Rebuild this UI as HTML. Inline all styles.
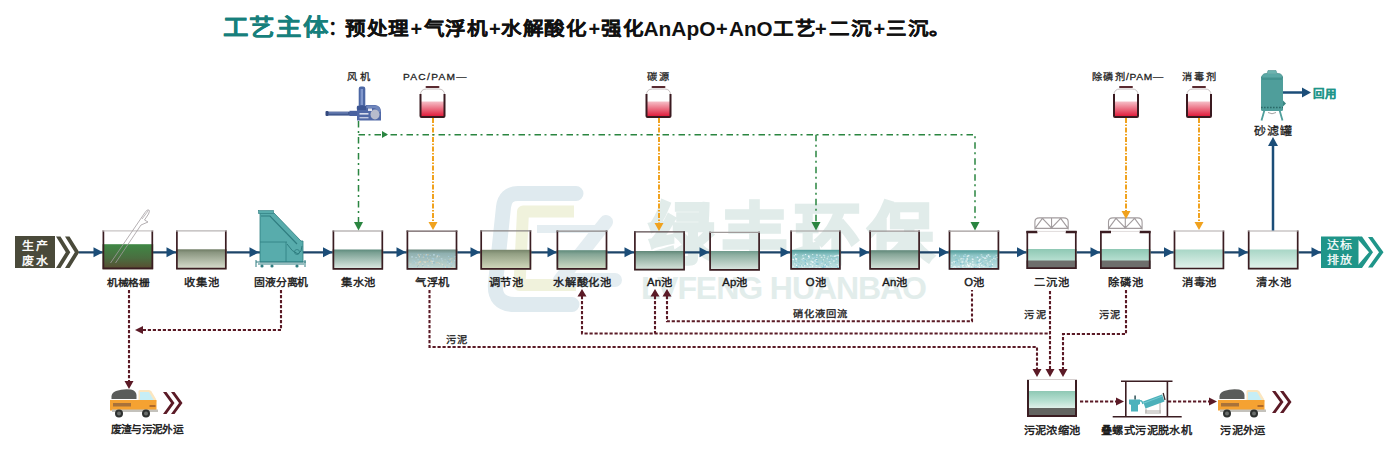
<!DOCTYPE html>
<html lang="zh-CN"><head><meta charset="utf-8"><style>
html,body{margin:0;padding:0;background:#fff;width:1400px;height:460px;overflow:hidden}
svg{display:block;font-family:"Liberation Sans",sans-serif}
</style></head><body>
<svg width="1400" height="460" viewBox="0 0 1400 460">

<defs>
<linearGradient id="g_grid" x1="0" y1="0" x2="0" y2="1"><stop offset="0" stop-color="#3f8845"/><stop offset="0.55" stop-color="#4a6e40"/><stop offset="1" stop-color="#5a4a30"/></linearGradient>
<linearGradient id="g_olive" x1="0" y1="0" x2="0" y2="1"><stop offset="0" stop-color="#6d7a62"/><stop offset="0.15" stop-color="#8a9680"/><stop offset="1" stop-color="#dde2d2"/></linearGradient>
<linearGradient id="g_teal" x1="0" y1="0" x2="0" y2="1"><stop offset="0" stop-color="#5d8a7c"/><stop offset="0.15" stop-color="#7aa093"/><stop offset="1" stop-color="#e3eee8"/></linearGradient>
<linearGradient id="g_float" x1="0" y1="0" x2="0" y2="1"><stop offset="0" stop-color="#6c8a80"/><stop offset="0.2" stop-color="#8fb0b0"/><stop offset="1" stop-color="#c8dcd8"/></linearGradient>
<linearGradient id="g_olive2" x1="0" y1="0" x2="0" y2="1"><stop offset="0" stop-color="#76846a"/><stop offset="0.2" stop-color="#93a084"/><stop offset="1" stop-color="#d6dcc0"/></linearGradient>
<linearGradient id="g_teal2" x1="0" y1="0" x2="0" y2="1"><stop offset="0" stop-color="#5e8a7a"/><stop offset="0.2" stop-color="#84a595"/><stop offset="1" stop-color="#d5e0c8"/></linearGradient>
<linearGradient id="g_an2" x1="0" y1="0" x2="0" y2="1"><stop offset="0" stop-color="#6f9a8c"/><stop offset="0.2" stop-color="#8fb0a2"/><stop offset="1" stop-color="#dfe9e4"/></linearGradient>
<linearGradient id="g_an" x1="0" y1="0" x2="0" y2="1"><stop offset="0" stop-color="#5f8778"/><stop offset="0.2" stop-color="#86a698"/><stop offset="1" stop-color="#dde8e0"/></linearGradient>
<linearGradient id="g_o" x1="0" y1="0" x2="0" y2="1"><stop offset="0" stop-color="#4f9a98"/><stop offset="0.25" stop-color="#8cc4c4"/><stop offset="1" stop-color="#c8e4e6"/></linearGradient>
<linearGradient id="g_settle" x1="0" y1="0" x2="0" y2="1"><stop offset="0" stop-color="#8ec8b4"/><stop offset="0.6" stop-color="#b8e0d2"/><stop offset="1" stop-color="#e0f0ea"/></linearGradient>
<linearGradient id="g_clear" x1="0" y1="0" x2="0" y2="1"><stop offset="0" stop-color="#a8d6c6"/><stop offset="1" stop-color="#e6f4ee"/></linearGradient>
<linearGradient id="g_red" x1="0" y1="0" x2="0" y2="1"><stop offset="0" stop-color="#f6c0c8"/><stop offset="1" stop-color="#e01838"/></linearGradient>
<pattern id="bubbles" width="6" height="5" patternUnits="userSpaceOnUse"><circle cx="1.5" cy="1.5" r="0.8" fill="#e8f6f8" opacity="0.8"/><circle cx="4.5" cy="3.5" r="0.7" fill="#ffffff" opacity="0.7"/></pattern>
</defs>
<g>
<path d="M576 193.5 L518 193.5 Q505 193.5 503.5 207 L495.5 283 Q493.5 304.5 515 304.5 L572 304.5" fill="none" stroke="#dfeaef" stroke-width="15" stroke-linecap="round" stroke-linejoin="round"/>
<path d="M574 211.5 L523 211.5 L519.5 285 L576 285" fill="none" stroke="#f0f2dc" stroke-width="12" stroke-linejoin="round"/>
<path d="M537 229 L598 229" fill="none" stroke="#e4edf1" stroke-width="8"/>
<path d="M606 222 L560 280 L615 280" fill="none" stroke="#e4edf1" stroke-width="14" stroke-linejoin="round" stroke-linecap="round"/>
<text x="649" y="257" font-size="65" font-weight="700" fill="#e1ecea" stroke="#e1ecea" stroke-width="3.5" letter-spacing="8">绿丰环保</text>
<text x="641" y="298.5" font-size="32" font-weight="700" fill="#e2edeb" textLength="286" lengthAdjust="spacing">LVFENG HUANBAO</text>
</g>
<text transform="translate(222.5,35.4) scale(1,0.9)" font-size="25.5" font-weight="700" letter-spacing="1.6" fill="#177f7c" stroke="#177f7c" stroke-width="0.15">工艺主体</text>
<text x="328" y="35" font-size="19" font-weight="700" fill="#111">：</text>
<text transform="translate(345,35.2) scale(1,0.9)" font-size="20.6" font-weight="700" fill="#111" stroke="#111" stroke-width="0.2" letter-spacing="0.6">预处理</text>
<text transform="translate(423.5,35.2) scale(1,0.9)" font-size="20.6" font-weight="700" fill="#111" stroke="#111" stroke-width="0.2" letter-spacing="0.6">气浮机</text>
<text transform="translate(501,35.2) scale(1,0.9)" font-size="20.6" font-weight="700" fill="#111" stroke="#111" stroke-width="0.2" letter-spacing="0.6">水解酸化</text>
<text transform="translate(601,35.2) scale(1,0.9)" font-size="20.6" font-weight="700" fill="#111" stroke="#111" stroke-width="0.2" letter-spacing="0.6">强化</text>
<text transform="translate(773.2,35.2) scale(1,0.9)" font-size="20.6" font-weight="700" fill="#111" stroke="#111" stroke-width="0.2" letter-spacing="0.6">工艺</text>
<text transform="translate(829,35.2) scale(1,0.9)" font-size="20.6" font-weight="700" fill="#111" stroke="#111" stroke-width="0.2" letter-spacing="0.6">二沉</text>
<text transform="translate(886,35.2) scale(1,0.9)" font-size="20.6" font-weight="700" fill="#111" stroke="#111" stroke-width="0.2" letter-spacing="0.6">三沉。</text>
<text x="410.5" y="35.5" font-size="20" font-weight="700" fill="#111">+</text>
<text x="489" y="35.5" font-size="20" font-weight="700" fill="#111">+</text>
<text x="588.5" y="35.5" font-size="20" font-weight="700" fill="#111">+</text>
<text x="716" y="35.5" font-size="20" font-weight="700" fill="#111">+</text>
<text x="815" y="35.5" font-size="20" font-weight="700" fill="#111">+</text>
<text x="873.5" y="35.5" font-size="20" font-weight="700" fill="#111">+</text>
<text x="643.5" y="35.5" font-size="20" font-weight="700" fill="#111" textLength="72" lengthAdjust="spacingAndGlyphs">AnApO</text>
<text x="729" y="35.5" font-size="20" font-weight="700" fill="#111" textLength="43.5" lengthAdjust="spacingAndGlyphs">AnO</text>
<line x1="79" y1="252.3" x2="1321" y2="252.3" stroke="#1d4468" stroke-width="2.3"/>
<path d="M93.5 247.3 L103 252.3 L93.5 257.3Z" fill="#1b4d78"/>
<path d="M166.5 247.3 L176 252.3 L166.5 257.3Z" fill="#1b4d78"/>
<path d="M249.5 247.3 L259 252.3 L249.5 257.3Z" fill="#1b4d78"/>
<path d="M323.0 247.3 L332.5 252.3 L323.0 257.3Z" fill="#1b4d78"/>
<path d="M396.5 247.3 L406 252.3 L396.5 257.3Z" fill="#1b4d78"/>
<path d="M470.5 247.3 L480 252.3 L470.5 257.3Z" fill="#1b4d78"/>
<path d="M547.5 247.3 L557 252.3 L547.5 257.3Z" fill="#1b4d78"/>
<path d="M624.5 247.3 L634 252.3 L624.5 257.3Z" fill="#1b4d78"/>
<path d="M699.5 247.3 L709 252.3 L699.5 257.3Z" fill="#1b4d78"/>
<path d="M780.5 247.3 L790 252.3 L780.5 257.3Z" fill="#1b4d78"/>
<path d="M859.5 247.3 L869 252.3 L859.5 257.3Z" fill="#1b4d78"/>
<path d="M939.0 247.3 L948.5 252.3 L939.0 257.3Z" fill="#1b4d78"/>
<path d="M1017.0 247.3 L1026.5 252.3 L1017.0 257.3Z" fill="#1b4d78"/>
<path d="M1090.5 247.3 L1100 252.3 L1090.5 257.3Z" fill="#1b4d78"/>
<path d="M1164.0 247.3 L1173.5 252.3 L1164.0 257.3Z" fill="#1b4d78"/>
<path d="M1238.5 247.3 L1248 252.3 L1238.5 257.3Z" fill="#1b4d78"/>
<path d="M1311.5 247.3 L1321 252.3 L1311.5 257.3Z" fill="#1b4d78"/>
<rect x="102.5" y="244.2" width="50.69999999999999" height="25.100000000000023" fill="url(#g_grid)"/>
<path d="M103.4 230.3 L103.4 268.40000000000003 L152.29999999999998 268.40000000000003 L152.29999999999998 230.3" fill="none" stroke="#3b1d22" stroke-width="1.7"/>
<line x1="102.5" y1="230.9" x2="153.2" y2="230.9" stroke="#c8c4c4" stroke-width="1.2"/>
<text transform="translate(128.45,286.2) scale(1,0.9)" font-size="10.7" letter-spacing="0.25" text-anchor="middle" fill="#1a1a1a" stroke="#1a1a1a" stroke-width="0.42" >机械格栅</text>
<rect x="176" y="249.3" width="50.69999999999999" height="20.19999999999999" fill="url(#g_olive)"/>
<path d="M176.9 230.3 L176.9 268.6 L225.79999999999998 268.6 L225.79999999999998 230.3" fill="none" stroke="#3b1d22" stroke-width="1.7"/>
<line x1="176" y1="230.9" x2="226.7" y2="230.9" stroke="#b8b4b4" stroke-width="1.2"/>
<text transform="translate(201.95,286.2) scale(1,0.9)" font-size="11.3" letter-spacing="0.25" text-anchor="middle" fill="#1a1a1a" stroke="#1a1a1a" stroke-width="0.42" >收集池</text>
<rect x="332.5" y="249.5" width="50.69999999999999" height="20.19999999999999" fill="url(#g_teal)"/>
<path d="M333.4 230.4 L333.4 268.8 L382.3 268.8 L382.3 230.4" fill="none" stroke="#3b1d22" stroke-width="1.7"/>
<line x1="332.5" y1="231.0" x2="383.2" y2="231.0" stroke="#9a9494" stroke-width="1.2"/>
<text transform="translate(358.45000000000005,286.2) scale(1,0.9)" font-size="11.3" letter-spacing="0.25" text-anchor="middle" fill="#1a1a1a" stroke="#1a1a1a" stroke-width="0.42" >集水池</text>
<rect x="406.5" y="249.5" width="50.89999999999998" height="20.19999999999999" fill="url(#g_float)"/>
<g><rect x="428.2" y="259.4" width="1.4" height="1.2" fill="#e8e0d0" opacity="0.56"/><rect x="412.2" y="267.2" width="0.9" height="1.1" fill="#c0dce8" opacity="0.60"/><rect x="426.9" y="254.4" width="1.7" height="0.9" fill="#d8c8a8" opacity="0.87"/><rect x="429.9" y="260.7" width="1.7" height="0.9" fill="#c0dce8" opacity="0.53"/><rect x="427.6" y="265.0" width="0.9" height="1.3" fill="#e8e0d0" opacity="0.69"/><rect x="432.7" y="258.2" width="1.6" height="1.4" fill="#a8d0e0" opacity="0.92"/><rect x="426.9" y="257.5" width="0.9" height="1.1" fill="#e8e0d0" opacity="0.63"/><rect x="428.8" y="255.7" width="1.3" height="1.4" fill="#90b8c8" opacity="0.51"/><rect x="436.7" y="254.5" width="1.5" height="0.8" fill="#90b8c8" opacity="0.52"/><rect x="430.0" y="261.7" width="1.1" height="0.8" fill="#a8d0e0" opacity="0.93"/><rect x="436.4" y="256.5" width="0.8" height="0.9" fill="#e8e0d0" opacity="0.77"/><rect x="435.6" y="258.2" width="1.8" height="1.2" fill="#a8d0e0" opacity="0.53"/><rect x="452.3" y="262.7" width="1.1" height="1.0" fill="#a8d0e0" opacity="0.54"/><rect x="412.6" y="267.7" width="1.7" height="1.1" fill="#c0dce8" opacity="0.78"/><rect x="423.3" y="254.3" width="1.4" height="1.0" fill="#d8c8a8" opacity="0.62"/><rect x="411.3" y="256.2" width="1.5" height="1.4" fill="#c0dce8" opacity="0.86"/><rect x="445.1" y="265.3" width="0.8" height="1.1" fill="#d8c8a8" opacity="0.54"/><rect x="436.0" y="262.5" width="1.3" height="0.9" fill="#d8c8a8" opacity="0.88"/><rect x="441.2" y="263.6" width="1.5" height="0.9" fill="#c0dce8" opacity="0.61"/><rect x="425.2" y="255.1" width="1.7" height="1.2" fill="#a8d0e0" opacity="0.60"/><rect x="419.4" y="264.5" width="0.9" height="1.1" fill="#c0dce8" opacity="0.60"/><rect x="422.9" y="266.4" width="1.1" height="1.2" fill="#e8e0d0" opacity="0.56"/><rect x="410.2" y="263.4" width="1.1" height="1.3" fill="#c0dce8" opacity="0.66"/><rect x="448.2" y="256.0" width="0.9" height="1.0" fill="#a8d0e0" opacity="0.87"/><rect x="424.9" y="256.2" width="1.8" height="1.1" fill="#90b8c8" opacity="0.79"/><rect x="420.3" y="254.0" width="1.0" height="1.3" fill="#c0dce8" opacity="0.69"/><rect x="452.1" y="267.1" width="1.4" height="0.9" fill="#e8e0d0" opacity="0.79"/><rect x="450.5" y="261.8" width="1.1" height="1.5" fill="#e8e0d0" opacity="0.69"/><rect x="450.4" y="262.6" width="1.7" height="1.3" fill="#a8d0e0" opacity="0.74"/><rect x="425.2" y="254.7" width="0.9" height="1.4" fill="#90b8c8" opacity="0.51"/><rect x="422.0" y="265.2" width="1.6" height="1.1" fill="#90b8c8" opacity="0.69"/><rect x="443.0" y="264.2" width="1.0" height="1.4" fill="#90b8c8" opacity="0.59"/><rect x="431.6" y="257.7" width="1.4" height="1.1" fill="#a8d0e0" opacity="0.66"/><rect x="451.6" y="267.1" width="1.1" height="1.1" fill="#e8e0d0" opacity="0.90"/><rect x="432.4" y="258.1" width="1.1" height="1.0" fill="#a8d0e0" opacity="0.52"/><rect x="417.4" y="266.1" width="1.0" height="1.3" fill="#e8e0d0" opacity="0.72"/><rect x="455.3" y="258.1" width="1.7" height="1.5" fill="#e8e0d0" opacity="0.89"/><rect x="417.7" y="261.8" width="1.2" height="1.1" fill="#e8e0d0" opacity="0.58"/><rect x="450.9" y="255.2" width="1.2" height="1.3" fill="#90b8c8" opacity="0.89"/><rect x="443.0" y="266.3" width="1.6" height="1.4" fill="#a8d0e0" opacity="0.85"/><rect x="447.1" y="262.2" width="0.8" height="1.2" fill="#90b8c8" opacity="0.87"/><rect x="426.8" y="259.5" width="1.3" height="1.1" fill="#90b8c8" opacity="0.79"/><rect x="437.9" y="254.8" width="1.0" height="0.9" fill="#a8d0e0" opacity="0.87"/><rect x="431.6" y="262.9" width="1.2" height="0.9" fill="#e8e0d0" opacity="0.76"/><rect x="412.3" y="259.6" width="1.2" height="1.0" fill="#a8d0e0" opacity="0.66"/><rect x="422.2" y="255.0" width="1.4" height="0.9" fill="#90b8c8" opacity="0.59"/><rect x="412.1" y="262.2" width="1.1" height="1.1" fill="#a8d0e0" opacity="0.52"/><rect x="446.6" y="266.3" width="0.9" height="0.9" fill="#a8d0e0" opacity="0.74"/><rect x="417.8" y="263.4" width="1.1" height="0.9" fill="#e8e0d0" opacity="0.59"/><rect x="428.8" y="260.3" width="1.2" height="1.3" fill="#90b8c8" opacity="0.52"/><rect x="422.1" y="263.6" width="1.1" height="1.4" fill="#e8e0d0" opacity="0.57"/><rect x="441.4" y="260.4" width="1.6" height="1.0" fill="#c0dce8" opacity="0.59"/><rect x="440.7" y="258.2" width="1.7" height="1.3" fill="#c0dce8" opacity="0.74"/><rect x="413.7" y="260.7" width="1.4" height="1.4" fill="#a8d0e0" opacity="0.71"/><rect x="418.8" y="256.1" width="1.2" height="1.3" fill="#e8e0d0" opacity="0.65"/><rect x="413.4" y="266.3" width="1.5" height="0.8" fill="#a8d0e0" opacity="0.50"/><rect x="419.5" y="261.0" width="1.6" height="1.4" fill="#d8c8a8" opacity="0.95"/><rect x="437.5" y="262.4" width="1.3" height="0.9" fill="#e8e0d0" opacity="0.69"/><rect x="417.0" y="254.2" width="1.7" height="1.4" fill="#a8d0e0" opacity="0.61"/><rect x="431.4" y="261.0" width="1.5" height="1.3" fill="#e8e0d0" opacity="0.92"/><rect x="447.5" y="260.0" width="1.7" height="1.3" fill="#90b8c8" opacity="0.69"/><rect x="422.7" y="256.9" width="1.7" height="1.1" fill="#a8d0e0" opacity="0.68"/><rect x="454.5" y="256.3" width="1.7" height="1.1" fill="#c0dce8" opacity="0.84"/><rect x="449.2" y="263.1" width="1.0" height="1.2" fill="#c0dce8" opacity="0.90"/><rect x="436.8" y="255.3" width="1.2" height="1.0" fill="#e8e0d0" opacity="0.91"/><rect x="446.3" y="266.8" width="0.9" height="0.9" fill="#90b8c8" opacity="0.75"/><rect x="451.5" y="266.9" width="1.0" height="1.1" fill="#d8c8a8" opacity="0.92"/><rect x="445.2" y="267.3" width="1.2" height="1.1" fill="#e8e0d0" opacity="0.85"/><rect x="430.4" y="260.7" width="1.5" height="1.3" fill="#d8c8a8" opacity="0.92"/><rect x="415.0" y="262.4" width="1.6" height="1.0" fill="#c0dce8" opacity="0.77"/><rect x="436.6" y="256.6" width="0.8" height="0.9" fill="#e8e0d0" opacity="0.59"/><rect x="429.5" y="254.9" width="1.5" height="0.8" fill="#c0dce8" opacity="0.62"/><rect x="419.0" y="261.6" width="1.3" height="1.0" fill="#e8e0d0" opacity="0.86"/><rect x="426.7" y="260.8" width="1.7" height="1.1" fill="#d8c8a8" opacity="0.77"/><rect x="433.2" y="262.4" width="1.7" height="0.9" fill="#90b8c8" opacity="0.79"/><rect x="423.0" y="256.3" width="1.2" height="1.4" fill="#d8c8a8" opacity="0.62"/><rect x="449.9" y="261.2" width="1.0" height="1.1" fill="#90b8c8" opacity="0.95"/><rect x="439.1" y="255.6" width="1.1" height="1.0" fill="#a8d0e0" opacity="0.70"/><rect x="444.7" y="265.9" width="1.0" height="1.1" fill="#e8e0d0" opacity="0.50"/><rect x="442.2" y="264.1" width="1.2" height="1.0" fill="#e8e0d0" opacity="0.85"/><rect x="432.6" y="260.5" width="1.5" height="1.4" fill="#c0dce8" opacity="0.74"/><rect x="446.4" y="266.9" width="1.5" height="1.2" fill="#a8d0e0" opacity="0.74"/><rect x="418.1" y="264.4" width="1.1" height="1.5" fill="#d8c8a8" opacity="0.61"/><rect x="433.3" y="264.1" width="1.3" height="1.0" fill="#a8d0e0" opacity="0.64"/><rect x="425.7" y="254.0" width="1.2" height="1.3" fill="#c0dce8" opacity="0.75"/><rect x="431.5" y="266.3" width="1.3" height="1.2" fill="#c0dce8" opacity="0.57"/><rect x="409.2" y="262.9" width="1.3" height="0.8" fill="#d8c8a8" opacity="0.81"/><rect x="449.7" y="258.3" width="1.7" height="1.2" fill="#a8d0e0" opacity="0.95"/><rect x="417.5" y="258.9" width="1.1" height="1.2" fill="#a8d0e0" opacity="0.92"/><rect x="449.3" y="259.0" width="1.7" height="0.9" fill="#d8c8a8" opacity="0.58"/><rect x="417.8" y="265.1" width="1.1" height="1.1" fill="#90b8c8" opacity="0.57"/><rect x="433.3" y="262.1" width="1.1" height="1.0" fill="#90b8c8" opacity="0.74"/><rect x="436.9" y="262.3" width="1.0" height="1.4" fill="#d8c8a8" opacity="0.95"/><rect x="415.4" y="256.9" width="1.4" height="1.2" fill="#c0dce8" opacity="0.75"/><rect x="417.0" y="266.0" width="0.9" height="1.3" fill="#90b8c8" opacity="0.74"/><rect x="421.5" y="256.7" width="1.2" height="0.8" fill="#a8d0e0" opacity="0.91"/><rect x="438.9" y="262.9" width="1.2" height="0.9" fill="#e8e0d0" opacity="0.63"/><rect x="450.9" y="267.3" width="1.1" height="1.3" fill="#e8e0d0" opacity="0.61"/><rect x="440.9" y="263.1" width="0.8" height="1.1" fill="#d8c8a8" opacity="0.54"/><rect x="417.9" y="254.4" width="1.5" height="1.3" fill="#d8c8a8" opacity="0.80"/><rect x="455.1" y="259.5" width="1.3" height="1.0" fill="#d8c8a8" opacity="0.56"/><rect x="451.1" y="261.2" width="1.0" height="1.2" fill="#d8c8a8" opacity="0.70"/><rect x="438.7" y="259.6" width="1.4" height="0.9" fill="#a8d0e0" opacity="0.74"/><rect x="437.0" y="255.9" width="0.8" height="1.2" fill="#c0dce8" opacity="0.88"/><rect x="450.6" y="265.6" width="1.5" height="0.9" fill="#90b8c8" opacity="0.79"/><rect x="438.7" y="256.2" width="0.9" height="0.8" fill="#d8c8a8" opacity="0.78"/><rect x="423.5" y="261.0" width="0.9" height="1.1" fill="#e8e0d0" opacity="0.65"/><rect x="455.3" y="256.3" width="1.3" height="0.9" fill="#c0dce8" opacity="0.94"/><rect x="416.4" y="263.7" width="0.8" height="1.2" fill="#d8c8a8" opacity="0.59"/><rect x="424.3" y="261.5" width="1.8" height="1.3" fill="#e8e0d0" opacity="0.78"/><rect x="451.0" y="258.1" width="1.6" height="0.8" fill="#d8c8a8" opacity="0.65"/><rect x="426.0" y="265.5" width="1.4" height="1.2" fill="#a8d0e0" opacity="0.79"/><rect x="446.9" y="261.5" width="1.4" height="1.1" fill="#c0dce8" opacity="0.62"/><rect x="431.2" y="260.6" width="1.1" height="1.1" fill="#c0dce8" opacity="0.89"/><rect x="437.7" y="254.4" width="1.2" height="1.4" fill="#90b8c8" opacity="0.57"/><rect x="448.8" y="261.3" width="1.2" height="1.4" fill="#90b8c8" opacity="0.68"/><rect x="433.0" y="254.1" width="1.8" height="1.5" fill="#c0dce8" opacity="0.78"/><rect x="454.1" y="259.9" width="1.6" height="1.4" fill="#c0dce8" opacity="0.74"/><rect x="444.6" y="259.2" width="1.0" height="0.9" fill="#c0dce8" opacity="0.52"/><rect x="436.4" y="262.7" width="1.8" height="1.2" fill="#a8d0e0" opacity="0.67"/></g>
<path d="M407.4 230.6 L407.4 268.8 L456.5 268.8 L456.5 230.6" fill="none" stroke="#3b1d22" stroke-width="1.7"/>
<line x1="406.5" y1="231.2" x2="457.4" y2="231.2" stroke="#6a5a5c" stroke-width="1.2"/>
<text transform="translate(432.55,286.2) scale(1,0.9)" font-size="11.3" letter-spacing="0.25" text-anchor="middle" fill="#1a1a1a" stroke="#1a1a1a" stroke-width="0.42" >气浮机</text>
<rect x="480.3" y="249.8" width="50.99999999999994" height="19.899999999999977" fill="url(#g_olive2)"/>
<path d="M481.2 230.3 L481.2 268.8 L530.4 268.8 L530.4 230.3" fill="none" stroke="#3b1d22" stroke-width="1.7"/>
<line x1="480.3" y1="230.9" x2="531.3" y2="230.9" stroke="#8a8484" stroke-width="1.2"/>
<text transform="translate(506.4,286.2) scale(1,0.9)" font-size="11.3" letter-spacing="0.25" text-anchor="middle" fill="#1a1a1a" stroke="#1a1a1a" stroke-width="0.42" >调节池</text>
<rect x="556.5" y="250.2" width="50.89999999999998" height="19.5" fill="url(#g_teal2)"/>
<path d="M557.4 230.5 L557.4 268.8 L606.5 268.8 L606.5 230.5" fill="none" stroke="#3b1d22" stroke-width="1.7"/>
<line x1="556.5" y1="231.1" x2="607.4" y2="231.1" stroke="#8a8484" stroke-width="1.2"/>
<text transform="translate(582.5500000000001,286.2) scale(1,0.9)" font-size="11.3" letter-spacing="0.25" text-anchor="middle" fill="#1a1a1a" stroke="#1a1a1a" stroke-width="0.42" >水解酸化池</text>
<rect x="634" y="251" width="51" height="19.600000000000023" fill="url(#g_an)"/>
<path d="M634.9 231.3 L634.9 269.70000000000005 L684.1 269.70000000000005 L684.1 231.3" fill="none" stroke="#3b1d22" stroke-width="1.7"/>
<line x1="634" y1="231.9" x2="685" y2="231.9" stroke="#5a4a4c" stroke-width="1.2"/>
<text transform="translate(660.1,286.2) scale(1,0.9)" font-size="11.3" letter-spacing="0.25" text-anchor="middle" fill="#1a1a1a" stroke="#1a1a1a" stroke-width="0.42" >An池</text>
<rect x="709.2" y="251" width="50.799999999999955" height="19.69999999999999" fill="url(#g_an2)"/>
<path d="M710.1 231.7 L710.1 269.8 L759.1 269.8 L759.1 231.7" fill="none" stroke="#3b1d22" stroke-width="1.7"/>
<line x1="709.2" y1="232.29999999999998" x2="760" y2="232.29999999999998" stroke="#a09a9a" stroke-width="1.2"/>
<text transform="translate(735.2,286.2) scale(1,0.9)" font-size="11.3" letter-spacing="0.25" text-anchor="middle" fill="#1a1a1a" stroke="#1a1a1a" stroke-width="0.42" >Ap池</text>
<rect x="790.2" y="249.8" width="50.59999999999991" height="19.899999999999977" fill="url(#g_o)"/>
<g><rect x="822.0" y="266.0" width="1.3" height="0.9" fill="#a8d8e8" opacity="0.75"/><rect x="798.7" y="261.8" width="1.1" height="0.8" fill="#a8d8e8" opacity="0.65"/><rect x="816.1" y="254.5" width="1.5" height="1.4" fill="#ffffff" opacity="0.83"/><rect x="835.1" y="255.8" width="1.7" height="1.4" fill="#7cc0d0" opacity="0.91"/><rect x="837.0" y="267.1" width="1.7" height="1.4" fill="#7cc0d0" opacity="0.85"/><rect x="810.1" y="263.6" width="1.6" height="1.2" fill="#ffffff" opacity="0.60"/><rect x="795.4" y="257.1" width="0.8" height="1.4" fill="#ffffff" opacity="0.66"/><rect x="813.9" y="262.7" width="1.8" height="1.0" fill="#a8d8e8" opacity="0.80"/><rect x="823.4" y="267.3" width="0.8" height="0.9" fill="#e6f4f6" opacity="0.69"/><rect x="805.0" y="262.2" width="1.3" height="1.2" fill="#a8d8e8" opacity="0.76"/><rect x="834.0" y="255.5" width="1.5" height="1.4" fill="#e6f4f6" opacity="0.95"/><rect x="838.1" y="260.6" width="1.1" height="1.0" fill="#7cc0d0" opacity="0.53"/><rect x="808.5" y="258.2" width="1.7" height="1.2" fill="#7cc0d0" opacity="0.54"/><rect x="807.2" y="258.0" width="1.0" height="0.8" fill="#7cc0d0" opacity="0.63"/><rect x="815.8" y="259.6" width="1.4" height="1.2" fill="#ffffff" opacity="0.89"/><rect x="823.8" y="264.8" width="1.8" height="1.5" fill="#e6f4f6" opacity="0.74"/><rect x="803.5" y="266.5" width="0.9" height="1.0" fill="#e6f4f6" opacity="0.93"/><rect x="813.5" y="255.4" width="1.4" height="1.4" fill="#7cc0d0" opacity="0.60"/><rect x="828.4" y="260.6" width="1.0" height="1.2" fill="#e6f4f6" opacity="0.82"/><rect x="830.8" y="257.7" width="1.4" height="1.3" fill="#7cc0d0" opacity="0.85"/><rect x="828.5" y="259.2" width="1.5" height="1.5" fill="#a8d8e8" opacity="0.51"/><rect x="815.9" y="262.2" width="1.0" height="1.4" fill="#a8d8e8" opacity="0.80"/><rect x="807.3" y="265.6" width="1.0" height="1.0" fill="#a8d8e8" opacity="0.64"/><rect x="838.2" y="266.0" width="1.0" height="1.0" fill="#ffffff" opacity="0.70"/><rect x="828.4" y="260.1" width="1.3" height="1.4" fill="#7cc0d0" opacity="0.87"/><rect x="802.1" y="266.5" width="1.0" height="1.4" fill="#e6f4f6" opacity="0.73"/><rect x="808.2" y="255.6" width="1.0" height="1.0" fill="#a8d8e8" opacity="0.60"/><rect x="812.5" y="261.8" width="1.1" height="1.2" fill="#e6f4f6" opacity="0.69"/><rect x="835.9" y="258.5" width="1.4" height="1.1" fill="#ffffff" opacity="0.76"/><rect x="816.2" y="260.0" width="1.5" height="1.0" fill="#7cc0d0" opacity="0.89"/><rect x="805.5" y="259.9" width="1.2" height="0.9" fill="#ffffff" opacity="0.65"/><rect x="807.5" y="257.5" width="1.2" height="1.3" fill="#ffffff" opacity="0.64"/><rect x="808.8" y="255.5" width="1.6" height="1.3" fill="#a8d8e8" opacity="0.66"/><rect x="834.5" y="261.6" width="1.1" height="1.3" fill="#7cc0d0" opacity="0.50"/><rect x="797.0" y="267.1" width="1.2" height="1.4" fill="#7cc0d0" opacity="0.77"/><rect x="820.3" y="261.2" width="1.3" height="1.4" fill="#a8d8e8" opacity="0.94"/><rect x="838.1" y="265.7" width="1.2" height="1.0" fill="#e6f4f6" opacity="0.74"/><rect x="802.1" y="259.8" width="1.7" height="1.5" fill="#a8d8e8" opacity="0.85"/><rect x="838.4" y="257.0" width="1.7" height="1.5" fill="#a8d8e8" opacity="0.92"/><rect x="796.1" y="266.4" width="1.6" height="1.2" fill="#7cc0d0" opacity="0.80"/><rect x="835.1" y="255.2" width="1.4" height="1.5" fill="#ffffff" opacity="0.61"/><rect x="815.6" y="259.3" width="1.3" height="1.3" fill="#ffffff" opacity="0.62"/><rect x="832.3" y="255.7" width="1.5" height="0.9" fill="#e6f4f6" opacity="0.86"/><rect x="812.7" y="257.5" width="1.2" height="1.3" fill="#7cc0d0" opacity="0.89"/><rect x="820.0" y="267.6" width="0.9" height="0.9" fill="#ffffff" opacity="0.67"/><rect x="815.6" y="265.1" width="1.3" height="0.9" fill="#ffffff" opacity="0.54"/><rect x="811.8" y="261.3" width="1.7" height="1.5" fill="#ffffff" opacity="0.78"/><rect x="816.8" y="263.6" width="1.5" height="1.1" fill="#7cc0d0" opacity="0.90"/><rect x="823.0" y="259.1" width="1.0" height="1.3" fill="#ffffff" opacity="0.53"/><rect x="798.6" y="264.8" width="1.3" height="0.8" fill="#a8d8e8" opacity="0.75"/><rect x="825.3" y="254.3" width="1.7" height="1.1" fill="#7cc0d0" opacity="0.67"/><rect x="798.3" y="261.5" width="1.7" height="1.0" fill="#7cc0d0" opacity="0.53"/><rect x="808.5" y="256.8" width="1.4" height="1.0" fill="#ffffff" opacity="0.68"/><rect x="795.1" y="262.2" width="1.4" height="0.9" fill="#7cc0d0" opacity="0.69"/><rect x="816.6" y="257.8" width="1.1" height="1.2" fill="#7cc0d0" opacity="0.78"/><rect x="831.0" y="258.9" width="1.5" height="1.1" fill="#7cc0d0" opacity="0.63"/><rect x="797.1" y="264.3" width="1.6" height="0.9" fill="#e6f4f6" opacity="0.58"/><rect x="809.5" y="265.3" width="1.0" height="1.2" fill="#7cc0d0" opacity="0.70"/><rect x="802.3" y="265.1" width="1.7" height="1.4" fill="#7cc0d0" opacity="0.55"/><rect x="792.8" y="259.4" width="1.6" height="1.0" fill="#ffffff" opacity="0.80"/><rect x="816.4" y="264.5" width="1.5" height="0.9" fill="#e6f4f6" opacity="0.63"/><rect x="830.8" y="266.3" width="1.2" height="1.0" fill="#e6f4f6" opacity="0.85"/><rect x="819.2" y="254.7" width="1.6" height="1.4" fill="#e6f4f6" opacity="0.58"/><rect x="815.7" y="263.2" width="1.6" height="0.9" fill="#7cc0d0" opacity="0.80"/><rect x="837.8" y="254.9" width="1.3" height="1.0" fill="#a8d8e8" opacity="0.61"/><rect x="815.9" y="263.9" width="1.7" height="0.9" fill="#7cc0d0" opacity="0.66"/><rect x="806.8" y="256.6" width="1.6" height="1.2" fill="#7cc0d0" opacity="0.85"/><rect x="804.6" y="263.9" width="1.4" height="0.9" fill="#7cc0d0" opacity="0.62"/><rect x="807.9" y="255.5" width="1.5" height="1.5" fill="#ffffff" opacity="0.86"/><rect x="792.4" y="258.8" width="1.6" height="1.0" fill="#ffffff" opacity="0.89"/><rect x="825.5" y="264.7" width="1.5" height="1.4" fill="#a8d8e8" opacity="0.79"/><rect x="829.0" y="261.3" width="1.4" height="0.9" fill="#e6f4f6" opacity="0.93"/><rect x="827.4" y="264.7" width="1.3" height="0.8" fill="#a8d8e8" opacity="0.87"/><rect x="827.6" y="263.2" width="0.9" height="0.8" fill="#7cc0d0" opacity="0.73"/><rect x="818.6" y="267.6" width="1.7" height="1.0" fill="#e6f4f6" opacity="0.88"/><rect x="809.7" y="265.1" width="1.2" height="0.9" fill="#a8d8e8" opacity="0.92"/><rect x="795.5" y="258.5" width="1.6" height="1.1" fill="#ffffff" opacity="0.89"/><rect x="823.2" y="265.2" width="1.1" height="1.5" fill="#7cc0d0" opacity="0.95"/><rect x="806.2" y="262.7" width="1.2" height="1.1" fill="#e6f4f6" opacity="0.81"/><rect x="809.9" y="266.4" width="1.7" height="1.1" fill="#e6f4f6" opacity="0.55"/><rect x="828.5" y="255.7" width="0.8" height="1.1" fill="#e6f4f6" opacity="0.86"/><rect x="809.2" y="258.1" width="1.3" height="0.9" fill="#a8d8e8" opacity="0.91"/><rect x="822.9" y="254.6" width="1.4" height="1.4" fill="#e6f4f6" opacity="0.56"/><rect x="820.7" y="256.7" width="1.7" height="1.3" fill="#ffffff" opacity="0.59"/><rect x="796.1" y="264.7" width="1.0" height="1.2" fill="#ffffff" opacity="0.93"/><rect x="794.2" y="263.2" width="1.0" height="1.2" fill="#e6f4f6" opacity="0.84"/><rect x="830.5" y="266.7" width="1.0" height="1.2" fill="#7cc0d0" opacity="0.61"/><rect x="795.7" y="260.5" width="1.3" height="1.0" fill="#e6f4f6" opacity="0.70"/><rect x="833.2" y="260.4" width="1.4" height="1.2" fill="#ffffff" opacity="0.85"/><rect x="797.3" y="264.2" width="1.8" height="1.1" fill="#7cc0d0" opacity="0.74"/><rect x="825.3" y="263.8" width="1.7" height="1.2" fill="#7cc0d0" opacity="0.71"/><rect x="826.4" y="258.6" width="1.1" height="1.1" fill="#7cc0d0" opacity="0.83"/><rect x="804.6" y="259.5" width="0.9" height="1.2" fill="#ffffff" opacity="0.51"/><rect x="828.9" y="255.5" width="1.0" height="1.3" fill="#7cc0d0" opacity="0.68"/><rect x="814.5" y="260.3" width="1.8" height="1.1" fill="#ffffff" opacity="0.76"/><rect x="815.5" y="257.6" width="1.3" height="1.4" fill="#7cc0d0" opacity="0.68"/><rect x="793.6" y="255.1" width="1.2" height="1.4" fill="#e6f4f6" opacity="0.79"/><rect x="805.4" y="253.9" width="1.0" height="1.3" fill="#a8d8e8" opacity="0.83"/><rect x="795.1" y="253.8" width="1.3" height="1.5" fill="#ffffff" opacity="0.87"/><rect x="813.8" y="256.7" width="1.6" height="1.5" fill="#a8d8e8" opacity="0.55"/><rect x="814.6" y="259.9" width="0.9" height="1.2" fill="#e6f4f6" opacity="0.56"/><rect x="823.3" y="266.7" width="1.1" height="0.9" fill="#7cc0d0" opacity="0.93"/><rect x="812.4" y="257.7" width="1.3" height="1.4" fill="#ffffff" opacity="0.53"/><rect x="838.3" y="255.9" width="1.4" height="0.9" fill="#e6f4f6" opacity="0.58"/><rect x="822.3" y="267.0" width="1.8" height="0.9" fill="#7cc0d0" opacity="0.95"/><rect x="836.7" y="264.2" width="1.1" height="0.8" fill="#ffffff" opacity="0.73"/><rect x="796.5" y="262.3" width="1.7" height="1.0" fill="#a8d8e8" opacity="0.91"/><rect x="830.1" y="255.3" width="1.5" height="1.2" fill="#e6f4f6" opacity="0.92"/><rect x="835.6" y="265.7" width="1.4" height="1.3" fill="#a8d8e8" opacity="0.93"/><rect x="815.4" y="259.5" width="1.2" height="0.9" fill="#ffffff" opacity="0.55"/><rect x="803.6" y="260.5" width="1.1" height="1.3" fill="#a8d8e8" opacity="0.79"/><rect x="837.3" y="254.7" width="1.6" height="1.4" fill="#ffffff" opacity="0.74"/><rect x="811.4" y="257.5" width="1.2" height="0.9" fill="#a8d8e8" opacity="0.73"/><rect x="792.7" y="265.7" width="0.9" height="1.2" fill="#ffffff" opacity="0.92"/><rect x="823.9" y="256.6" width="1.3" height="1.3" fill="#ffffff" opacity="0.55"/><rect x="820.9" y="266.2" width="0.9" height="1.2" fill="#7cc0d0" opacity="0.56"/><rect x="829.9" y="262.9" width="1.4" height="1.1" fill="#e6f4f6" opacity="0.68"/><rect x="821.2" y="263.1" width="1.0" height="1.0" fill="#a8d8e8" opacity="0.79"/><rect x="798.0" y="258.7" width="1.6" height="0.9" fill="#7cc0d0" opacity="0.66"/><rect x="819.1" y="267.0" width="1.0" height="1.1" fill="#e6f4f6" opacity="0.57"/><rect x="823.6" y="266.6" width="1.1" height="1.2" fill="#a8d8e8" opacity="0.84"/><rect x="815.7" y="255.4" width="1.5" height="1.2" fill="#7cc0d0" opacity="0.58"/><rect x="823.8" y="254.9" width="1.5" height="1.2" fill="#e6f4f6" opacity="0.51"/><rect x="817.3" y="263.3" width="1.5" height="1.4" fill="#7cc0d0" opacity="0.63"/><rect x="831.7" y="258.8" width="1.1" height="1.4" fill="#a8d8e8" opacity="0.89"/><rect x="796.4" y="267.6" width="1.5" height="1.1" fill="#a8d8e8" opacity="0.55"/><rect x="822.1" y="260.6" width="0.9" height="1.2" fill="#7cc0d0" opacity="0.76"/><rect x="813.3" y="260.9" width="1.7" height="1.3" fill="#a8d8e8" opacity="0.54"/><rect x="800.8" y="263.0" width="0.9" height="1.1" fill="#7cc0d0" opacity="0.53"/><rect x="824.7" y="265.9" width="1.3" height="1.4" fill="#7cc0d0" opacity="0.59"/><rect x="819.9" y="262.5" width="1.6" height="1.1" fill="#a8d8e8" opacity="0.66"/><rect x="824.6" y="262.3" width="1.4" height="1.5" fill="#7cc0d0" opacity="0.78"/><rect x="795.7" y="256.8" width="1.4" height="1.1" fill="#7cc0d0" opacity="0.81"/><rect x="794.1" y="258.5" width="1.5" height="1.0" fill="#7cc0d0" opacity="0.90"/><rect x="801.2" y="258.8" width="1.7" height="0.8" fill="#ffffff" opacity="0.51"/><rect x="813.4" y="267.3" width="1.0" height="1.4" fill="#a8d8e8" opacity="0.62"/><rect x="826.0" y="265.6" width="1.8" height="1.2" fill="#e6f4f6" opacity="0.75"/><rect x="830.8" y="258.4" width="1.1" height="1.1" fill="#ffffff" opacity="0.66"/><rect x="805.0" y="254.0" width="1.1" height="1.1" fill="#ffffff" opacity="0.65"/><rect x="813.6" y="259.5" width="1.0" height="0.8" fill="#7cc0d0" opacity="0.52"/><rect x="795.9" y="254.0" width="1.8" height="0.8" fill="#a8d8e8" opacity="0.94"/><rect x="804.9" y="262.9" width="1.1" height="1.4" fill="#7cc0d0" opacity="0.80"/><rect x="795.2" y="258.3" width="1.4" height="1.4" fill="#ffffff" opacity="0.90"/><rect x="826.6" y="258.1" width="1.2" height="1.4" fill="#e6f4f6" opacity="0.85"/><rect x="824.9" y="263.8" width="1.1" height="1.1" fill="#e6f4f6" opacity="0.90"/><rect x="807.2" y="263.5" width="0.8" height="1.5" fill="#ffffff" opacity="0.91"/><rect x="816.5" y="256.7" width="0.8" height="1.4" fill="#e6f4f6" opacity="0.87"/><rect x="793.1" y="259.9" width="0.8" height="0.9" fill="#a8d8e8" opacity="0.67"/><rect x="821.1" y="263.0" width="1.5" height="1.0" fill="#e6f4f6" opacity="0.51"/><rect x="802.3" y="254.9" width="1.2" height="1.4" fill="#ffffff" opacity="0.67"/><rect x="815.4" y="267.4" width="1.5" height="1.1" fill="#e6f4f6" opacity="0.85"/><rect x="804.6" y="260.0" width="1.7" height="1.5" fill="#7cc0d0" opacity="0.87"/><rect x="815.6" y="260.1" width="1.8" height="0.9" fill="#7cc0d0" opacity="0.91"/><rect x="800.9" y="265.4" width="1.4" height="1.1" fill="#ffffff" opacity="0.68"/><rect x="834.8" y="258.2" width="1.4" height="1.4" fill="#a8d8e8" opacity="0.66"/><rect x="812.0" y="265.7" width="1.0" height="1.5" fill="#ffffff" opacity="0.64"/><rect x="811.7" y="264.7" width="1.8" height="1.3" fill="#e6f4f6" opacity="0.55"/><rect x="794.4" y="259.9" width="0.9" height="1.2" fill="#7cc0d0" opacity="0.64"/><rect x="836.1" y="254.9" width="1.2" height="1.3" fill="#e6f4f6" opacity="0.64"/><rect x="827.0" y="256.6" width="1.6" height="0.8" fill="#ffffff" opacity="0.51"/><rect x="812.0" y="254.2" width="1.3" height="0.8" fill="#e6f4f6" opacity="0.93"/><rect x="810.6" y="260.6" width="1.2" height="1.4" fill="#e6f4f6" opacity="0.95"/><rect x="804.2" y="265.0" width="1.0" height="1.3" fill="#e6f4f6" opacity="0.83"/><rect x="814.4" y="263.0" width="0.9" height="0.9" fill="#ffffff" opacity="0.64"/><rect x="817.9" y="255.1" width="1.0" height="1.0" fill="#7cc0d0" opacity="0.85"/><rect x="799.8" y="265.3" width="1.3" height="0.9" fill="#7cc0d0" opacity="0.83"/><rect x="802.6" y="257.7" width="1.7" height="1.3" fill="#e6f4f6" opacity="0.89"/><rect x="827.4" y="264.6" width="1.7" height="1.0" fill="#7cc0d0" opacity="0.67"/><rect x="809.1" y="266.5" width="1.1" height="1.1" fill="#e6f4f6" opacity="0.82"/><rect x="803.1" y="254.4" width="1.6" height="1.2" fill="#a8d8e8" opacity="0.76"/></g>
<path d="M791.1 230.4 L791.1 268.8 L839.9 268.8 L839.9 230.4" fill="none" stroke="#3b1d22" stroke-width="1.7"/>
<line x1="790.2" y1="231.0" x2="840.8" y2="231.0" stroke="#a09a9a" stroke-width="1.2"/>
<text transform="translate(816.1,286.2) scale(1,0.9)" font-size="11.3" letter-spacing="0.25" text-anchor="middle" fill="#1a1a1a" stroke="#1a1a1a" stroke-width="0.42" >O池</text>
<rect x="869.2" y="250.2" width="50.799999999999955" height="19.600000000000023" fill="url(#g_an)"/>
<path d="M870.1 230.6 L870.1 268.90000000000003 L919.1 268.90000000000003 L919.1 230.6" fill="none" stroke="#3b1d22" stroke-width="1.7"/>
<line x1="869.2" y1="231.2" x2="920" y2="231.2" stroke="#9a9494" stroke-width="1.2"/>
<text transform="translate(895.2,286.2) scale(1,0.9)" font-size="11.3" letter-spacing="0.25" text-anchor="middle" fill="#1a1a1a" stroke="#1a1a1a" stroke-width="0.42" >An池</text>
<rect x="948.6" y="250.2" width="50.69999999999993" height="19.600000000000023" fill="url(#g_o)"/>
<g><rect x="975.0" y="264.7" width="1.6" height="0.8" fill="#e6f4f6" opacity="0.87"/><rect x="985.5" y="260.0" width="1.1" height="0.9" fill="#ffffff" opacity="0.62"/><rect x="961.1" y="263.7" width="1.3" height="1.0" fill="#a8d8e8" opacity="0.78"/><rect x="968.0" y="254.9" width="1.7" height="0.8" fill="#ffffff" opacity="0.79"/><rect x="963.0" y="262.9" width="1.2" height="1.1" fill="#7cc0d0" opacity="0.55"/><rect x="966.1" y="260.7" width="1.0" height="1.2" fill="#e6f4f6" opacity="0.69"/><rect x="976.9" y="256.8" width="1.6" height="1.2" fill="#e6f4f6" opacity="0.54"/><rect x="982.4" y="259.9" width="1.5" height="1.0" fill="#7cc0d0" opacity="0.74"/><rect x="980.9" y="266.3" width="1.6" height="1.1" fill="#a8d8e8" opacity="0.57"/><rect x="981.6" y="256.3" width="0.9" height="0.8" fill="#ffffff" opacity="0.89"/><rect x="953.9" y="265.9" width="1.7" height="1.2" fill="#e6f4f6" opacity="0.78"/><rect x="960.4" y="259.2" width="1.0" height="1.0" fill="#e6f4f6" opacity="0.67"/><rect x="980.7" y="258.3" width="0.9" height="1.2" fill="#a8d8e8" opacity="0.51"/><rect x="977.2" y="255.3" width="1.6" height="0.8" fill="#7cc0d0" opacity="0.89"/><rect x="984.7" y="257.4" width="1.8" height="1.4" fill="#ffffff" opacity="0.71"/><rect x="966.4" y="263.9" width="1.2" height="1.2" fill="#7cc0d0" opacity="0.59"/><rect x="993.4" y="261.3" width="1.8" height="1.2" fill="#a8d8e8" opacity="0.75"/><rect x="980.7" y="257.2" width="1.1" height="1.1" fill="#7cc0d0" opacity="0.67"/><rect x="986.0" y="255.3" width="1.4" height="1.4" fill="#ffffff" opacity="0.63"/><rect x="980.6" y="261.2" width="1.3" height="1.0" fill="#7cc0d0" opacity="0.68"/><rect x="988.9" y="266.0" width="1.7" height="0.9" fill="#7cc0d0" opacity="0.95"/><rect x="976.0" y="266.9" width="1.6" height="1.1" fill="#a8d8e8" opacity="0.52"/><rect x="950.7" y="265.1" width="1.1" height="1.0" fill="#e6f4f6" opacity="0.72"/><rect x="964.9" y="264.9" width="1.6" height="0.9" fill="#e6f4f6" opacity="0.54"/><rect x="964.4" y="260.2" width="1.5" height="1.4" fill="#7cc0d0" opacity="0.71"/><rect x="967.1" y="263.6" width="0.8" height="1.0" fill="#ffffff" opacity="0.76"/><rect x="969.8" y="263.0" width="1.4" height="1.3" fill="#ffffff" opacity="0.68"/><rect x="980.4" y="264.7" width="1.1" height="0.9" fill="#a8d8e8" opacity="0.56"/><rect x="990.7" y="265.2" width="1.0" height="1.1" fill="#7cc0d0" opacity="0.62"/><rect x="964.8" y="261.2" width="1.7" height="1.1" fill="#e6f4f6" opacity="0.64"/><rect x="988.5" y="259.6" width="1.0" height="1.0" fill="#7cc0d0" opacity="0.51"/><rect x="967.3" y="255.4" width="1.2" height="1.4" fill="#ffffff" opacity="0.80"/><rect x="961.9" y="265.3" width="1.7" height="0.9" fill="#ffffff" opacity="0.68"/><rect x="994.6" y="258.4" width="1.5" height="1.1" fill="#ffffff" opacity="0.85"/><rect x="967.9" y="265.7" width="1.8" height="1.5" fill="#ffffff" opacity="0.65"/><rect x="978.9" y="264.8" width="1.0" height="1.5" fill="#ffffff" opacity="0.59"/><rect x="993.5" y="261.4" width="1.0" height="0.8" fill="#7cc0d0" opacity="0.60"/><rect x="953.8" y="261.2" width="1.6" height="1.4" fill="#e6f4f6" opacity="0.82"/><rect x="972.1" y="263.8" width="0.9" height="1.2" fill="#ffffff" opacity="0.68"/><rect x="971.3" y="258.4" width="1.6" height="1.4" fill="#e6f4f6" opacity="0.80"/><rect x="965.4" y="258.5" width="1.3" height="1.0" fill="#7cc0d0" opacity="0.64"/><rect x="994.6" y="267.4" width="0.9" height="1.4" fill="#ffffff" opacity="0.69"/><rect x="990.7" y="263.8" width="1.5" height="1.0" fill="#a8d8e8" opacity="0.80"/><rect x="971.4" y="255.8" width="1.6" height="1.1" fill="#a8d8e8" opacity="0.64"/><rect x="985.8" y="256.2" width="1.7" height="1.2" fill="#7cc0d0" opacity="0.70"/><rect x="956.0" y="259.0" width="1.4" height="1.2" fill="#7cc0d0" opacity="0.77"/><rect x="974.9" y="267.5" width="1.2" height="1.1" fill="#e6f4f6" opacity="0.55"/><rect x="961.3" y="261.5" width="1.7" height="1.4" fill="#e6f4f6" opacity="0.67"/><rect x="984.5" y="260.0" width="0.8" height="1.5" fill="#a8d8e8" opacity="0.50"/><rect x="973.8" y="267.2" width="1.0" height="1.3" fill="#a8d8e8" opacity="0.80"/><rect x="977.4" y="259.3" width="1.3" height="0.9" fill="#7cc0d0" opacity="0.71"/><rect x="991.6" y="259.1" width="1.0" height="1.2" fill="#ffffff" opacity="0.63"/><rect x="964.0" y="254.6" width="1.2" height="0.9" fill="#7cc0d0" opacity="0.88"/><rect x="962.5" y="258.2" width="1.6" height="1.1" fill="#ffffff" opacity="0.81"/><rect x="986.0" y="256.1" width="1.6" height="0.9" fill="#ffffff" opacity="0.58"/><rect x="959.9" y="254.5" width="1.2" height="1.3" fill="#7cc0d0" opacity="0.53"/><rect x="981.1" y="264.8" width="1.3" height="1.5" fill="#e6f4f6" opacity="0.91"/><rect x="987.1" y="264.6" width="1.5" height="1.5" fill="#e6f4f6" opacity="0.89"/><rect x="963.1" y="256.0" width="1.6" height="1.4" fill="#ffffff" opacity="0.60"/><rect x="981.2" y="261.9" width="1.0" height="0.8" fill="#e6f4f6" opacity="0.78"/><rect x="970.7" y="266.0" width="1.3" height="1.3" fill="#e6f4f6" opacity="0.83"/><rect x="979.0" y="267.0" width="1.2" height="1.0" fill="#ffffff" opacity="0.67"/><rect x="966.7" y="264.0" width="1.5" height="1.3" fill="#ffffff" opacity="0.73"/><rect x="955.0" y="262.0" width="1.2" height="1.4" fill="#7cc0d0" opacity="0.78"/><rect x="967.9" y="260.0" width="1.5" height="1.3" fill="#7cc0d0" opacity="0.77"/><rect x="950.7" y="263.0" width="0.8" height="1.3" fill="#a8d8e8" opacity="0.72"/><rect x="953.4" y="255.2" width="1.0" height="1.5" fill="#e6f4f6" opacity="0.60"/><rect x="954.8" y="266.5" width="1.5" height="1.4" fill="#e6f4f6" opacity="0.80"/><rect x="977.7" y="261.9" width="1.5" height="1.5" fill="#7cc0d0" opacity="0.68"/><rect x="985.4" y="265.0" width="1.4" height="0.9" fill="#7cc0d0" opacity="0.56"/><rect x="976.6" y="256.8" width="1.7" height="1.1" fill="#a8d8e8" opacity="0.92"/><rect x="984.5" y="263.9" width="1.4" height="1.1" fill="#7cc0d0" opacity="0.70"/><rect x="965.2" y="259.8" width="1.3" height="1.1" fill="#e6f4f6" opacity="0.64"/><rect x="976.3" y="262.6" width="1.6" height="0.8" fill="#7cc0d0" opacity="0.86"/><rect x="989.5" y="255.9" width="0.9" height="1.1" fill="#ffffff" opacity="0.90"/><rect x="963.0" y="255.3" width="1.4" height="1.0" fill="#a8d8e8" opacity="0.93"/><rect x="953.3" y="266.1" width="1.0" height="1.2" fill="#e6f4f6" opacity="0.81"/><rect x="977.0" y="256.7" width="1.0" height="1.1" fill="#ffffff" opacity="0.61"/><rect x="976.9" y="266.8" width="1.3" height="0.9" fill="#a8d8e8" opacity="0.52"/><rect x="993.0" y="257.1" width="1.1" height="1.2" fill="#a8d8e8" opacity="0.57"/><rect x="975.5" y="256.7" width="1.4" height="1.5" fill="#a8d8e8" opacity="0.92"/><rect x="991.7" y="267.4" width="1.7" height="1.0" fill="#ffffff" opacity="0.82"/><rect x="983.1" y="266.0" width="1.7" height="0.8" fill="#e6f4f6" opacity="0.70"/><rect x="987.6" y="264.9" width="0.9" height="1.0" fill="#7cc0d0" opacity="0.77"/><rect x="992.0" y="263.9" width="0.9" height="1.1" fill="#ffffff" opacity="0.87"/><rect x="960.1" y="263.0" width="1.4" height="1.4" fill="#7cc0d0" opacity="0.91"/><rect x="962.3" y="265.0" width="1.5" height="1.0" fill="#e6f4f6" opacity="0.76"/><rect x="957.6" y="266.2" width="1.7" height="0.9" fill="#ffffff" opacity="0.62"/><rect x="979.2" y="259.4" width="1.0" height="1.2" fill="#ffffff" opacity="0.90"/><rect x="982.1" y="255.8" width="1.2" height="1.4" fill="#a8d8e8" opacity="0.64"/><rect x="966.5" y="257.8" width="1.3" height="1.4" fill="#ffffff" opacity="0.76"/><rect x="951.3" y="262.1" width="1.5" height="1.3" fill="#ffffff" opacity="0.60"/><rect x="983.4" y="256.9" width="1.5" height="1.2" fill="#a8d8e8" opacity="0.55"/><rect x="990.6" y="265.4" width="1.8" height="0.9" fill="#7cc0d0" opacity="0.82"/><rect x="986.7" y="256.5" width="1.2" height="0.8" fill="#ffffff" opacity="0.94"/><rect x="961.4" y="266.0" width="1.1" height="1.2" fill="#ffffff" opacity="0.73"/><rect x="978.2" y="263.4" width="1.5" height="1.2" fill="#ffffff" opacity="0.76"/><rect x="952.6" y="266.9" width="1.2" height="1.0" fill="#e6f4f6" opacity="0.95"/><rect x="968.8" y="256.3" width="1.6" height="1.1" fill="#a8d8e8" opacity="0.50"/><rect x="964.7" y="254.4" width="1.3" height="0.9" fill="#7cc0d0" opacity="0.63"/><rect x="991.5" y="257.4" width="1.1" height="0.8" fill="#7cc0d0" opacity="0.62"/><rect x="963.0" y="258.2" width="1.1" height="1.3" fill="#a8d8e8" opacity="0.90"/><rect x="962.7" y="256.7" width="1.4" height="1.2" fill="#7cc0d0" opacity="0.54"/><rect x="964.4" y="256.1" width="1.3" height="1.4" fill="#a8d8e8" opacity="0.71"/><rect x="964.0" y="256.9" width="1.6" height="1.0" fill="#7cc0d0" opacity="0.80"/><rect x="995.7" y="254.7" width="1.0" height="1.2" fill="#ffffff" opacity="0.63"/><rect x="965.8" y="265.8" width="1.6" height="1.5" fill="#e6f4f6" opacity="0.65"/><rect x="972.3" y="258.7" width="1.3" height="1.4" fill="#ffffff" opacity="0.67"/><rect x="966.6" y="255.8" width="1.7" height="1.0" fill="#e6f4f6" opacity="0.71"/><rect x="973.2" y="263.8" width="1.3" height="1.4" fill="#e6f4f6" opacity="0.81"/><rect x="982.3" y="260.3" width="0.8" height="1.3" fill="#a8d8e8" opacity="0.81"/><rect x="958.9" y="255.6" width="1.0" height="1.3" fill="#a8d8e8" opacity="0.90"/><rect x="955.0" y="259.3" width="0.9" height="1.3" fill="#7cc0d0" opacity="0.76"/><rect x="986.9" y="256.2" width="1.2" height="0.8" fill="#a8d8e8" opacity="0.91"/><rect x="971.6" y="266.8" width="0.8" height="1.0" fill="#ffffff" opacity="0.65"/><rect x="977.3" y="266.1" width="1.3" height="1.2" fill="#e6f4f6" opacity="0.95"/><rect x="971.9" y="261.2" width="1.5" height="1.3" fill="#e6f4f6" opacity="0.93"/><rect x="962.9" y="260.2" width="1.1" height="1.0" fill="#a8d8e8" opacity="0.66"/><rect x="983.2" y="260.5" width="1.0" height="0.9" fill="#e6f4f6" opacity="0.76"/><rect x="966.7" y="262.2" width="1.1" height="1.1" fill="#ffffff" opacity="0.70"/><rect x="979.7" y="263.0" width="1.3" height="1.0" fill="#ffffff" opacity="0.62"/><rect x="960.2" y="266.4" width="1.5" height="1.1" fill="#7cc0d0" opacity="0.86"/><rect x="994.3" y="258.6" width="1.5" height="0.8" fill="#7cc0d0" opacity="0.62"/><rect x="957.0" y="260.8" width="1.0" height="1.5" fill="#7cc0d0" opacity="0.56"/><rect x="953.8" y="265.8" width="0.8" height="1.5" fill="#e6f4f6" opacity="0.74"/><rect x="993.4" y="255.9" width="1.5" height="1.5" fill="#a8d8e8" opacity="0.79"/><rect x="956.1" y="262.3" width="1.1" height="1.2" fill="#a8d8e8" opacity="0.90"/><rect x="960.4" y="258.2" width="1.7" height="0.9" fill="#ffffff" opacity="0.66"/><rect x="990.0" y="267.6" width="1.5" height="1.3" fill="#a8d8e8" opacity="0.68"/><rect x="969.3" y="263.4" width="1.3" height="1.4" fill="#e6f4f6" opacity="0.63"/><rect x="978.5" y="260.6" width="1.5" height="1.0" fill="#e6f4f6" opacity="0.78"/><rect x="979.3" y="258.5" width="1.2" height="1.4" fill="#ffffff" opacity="0.79"/><rect x="980.6" y="254.4" width="1.7" height="0.9" fill="#e6f4f6" opacity="0.73"/><rect x="980.5" y="257.6" width="1.0" height="1.0" fill="#ffffff" opacity="0.62"/><rect x="969.0" y="254.2" width="1.0" height="1.0" fill="#7cc0d0" opacity="0.81"/><rect x="964.5" y="254.3" width="1.2" height="1.0" fill="#e6f4f6" opacity="0.75"/><rect x="966.6" y="259.0" width="1.0" height="1.5" fill="#ffffff" opacity="0.79"/><rect x="989.4" y="266.5" width="0.8" height="0.9" fill="#a8d8e8" opacity="0.93"/><rect x="961.5" y="260.5" width="1.3" height="0.9" fill="#e6f4f6" opacity="0.57"/><rect x="961.8" y="261.2" width="1.8" height="1.4" fill="#e6f4f6" opacity="0.58"/><rect x="982.3" y="256.9" width="1.7" height="1.0" fill="#e6f4f6" opacity="0.66"/><rect x="979.4" y="257.7" width="1.1" height="1.1" fill="#7cc0d0" opacity="0.75"/><rect x="993.3" y="257.9" width="1.1" height="1.0" fill="#ffffff" opacity="0.76"/><rect x="995.9" y="266.6" width="1.3" height="1.3" fill="#a8d8e8" opacity="0.67"/><rect x="977.1" y="267.5" width="1.4" height="1.4" fill="#a8d8e8" opacity="0.63"/><rect x="996.7" y="256.9" width="1.7" height="1.2" fill="#ffffff" opacity="0.73"/><rect x="973.8" y="267.2" width="1.7" height="0.8" fill="#7cc0d0" opacity="0.67"/><rect x="982.5" y="266.0" width="1.7" height="1.1" fill="#e6f4f6" opacity="0.51"/><rect x="981.8" y="262.6" width="1.5" height="1.0" fill="#7cc0d0" opacity="0.84"/><rect x="957.2" y="264.0" width="1.7" height="1.0" fill="#a8d8e8" opacity="0.66"/><rect x="967.5" y="264.9" width="1.7" height="1.5" fill="#ffffff" opacity="0.66"/><rect x="968.8" y="265.2" width="1.7" height="1.2" fill="#ffffff" opacity="0.59"/><rect x="978.5" y="262.1" width="1.5" height="1.4" fill="#a8d8e8" opacity="0.55"/><rect x="953.0" y="261.1" width="1.4" height="0.8" fill="#e6f4f6" opacity="0.64"/><rect x="989.3" y="260.6" width="1.7" height="1.1" fill="#ffffff" opacity="0.71"/><rect x="962.6" y="267.5" width="1.8" height="1.3" fill="#e6f4f6" opacity="0.91"/><rect x="986.9" y="262.7" width="1.0" height="1.2" fill="#e6f4f6" opacity="0.73"/><rect x="959.4" y="266.4" width="1.1" height="1.2" fill="#ffffff" opacity="0.52"/><rect x="978.1" y="259.9" width="1.2" height="1.5" fill="#e6f4f6" opacity="0.59"/><rect x="956.6" y="263.5" width="1.2" height="1.4" fill="#a8d8e8" opacity="0.51"/><rect x="958.3" y="259.7" width="1.0" height="1.0" fill="#e6f4f6" opacity="0.77"/><rect x="972.3" y="265.4" width="1.6" height="1.0" fill="#ffffff" opacity="0.56"/><rect x="976.7" y="261.7" width="1.4" height="1.3" fill="#7cc0d0" opacity="0.62"/><rect x="987.5" y="254.3" width="1.8" height="1.3" fill="#ffffff" opacity="0.77"/><rect x="983.9" y="257.5" width="1.3" height="1.3" fill="#ffffff" opacity="0.57"/><rect x="995.6" y="259.3" width="1.5" height="0.8" fill="#a8d8e8" opacity="0.61"/><rect x="954.8" y="254.4" width="1.4" height="1.5" fill="#e6f4f6" opacity="0.69"/><rect x="986.5" y="255.0" width="1.1" height="1.4" fill="#a8d8e8" opacity="0.58"/><rect x="988.7" y="260.2" width="1.2" height="1.0" fill="#7cc0d0" opacity="0.51"/><rect x="971.2" y="258.4" width="0.9" height="1.3" fill="#7cc0d0" opacity="0.65"/></g>
<path d="M949.5 230.6 L949.5 268.90000000000003 L998.4 268.90000000000003 L998.4 230.6" fill="none" stroke="#3b1d22" stroke-width="1.7"/>
<line x1="948.6" y1="231.2" x2="999.3" y2="231.2" stroke="#a09a9a" stroke-width="1.2"/>
<text transform="translate(974.5500000000001,286.2) scale(1,0.9)" font-size="11.3" letter-spacing="0.25" text-anchor="middle" fill="#1a1a1a" stroke="#1a1a1a" stroke-width="0.42" >O池</text>
<rect x="1026.4" y="249" width="50.299999999999955" height="20" fill="url(#g_settle)"/>
<rect x="1026.4" y="260.5" width="50.299999999999955" height="8.5" fill="#6e6e6c"/>
<path d="M1027.3000000000002 230.9 L1027.3000000000002 268.1 L1075.8 268.1 L1075.8 230.9" fill="none" stroke="#3b1d22" stroke-width="1.7"/>
<path d="M1026.4 231.9 L1037.4 231.9 M1065.7 231.9 L1076.7 231.9" stroke="#3b1d22" stroke-width="2.5"/>
<line x1="1037.4" y1="231.4" x2="1065.7" y2="231.4" stroke="#e0dcdc" stroke-width="1"/>
<path d="M1034.9 229.4 L1034.9 221.9 Q1034.9 217.9 1039.4 217.9 L1063.7 217.9 Q1068.2 217.9 1068.2 221.9 L1068.2 229.4 M1034.4 228.4 L1068.7 228.4 M1035.4 227.9 L1042.4 218.4 L1051.5500000000002 227.9 L1060.7 218.4 L1067.7 227.9 M1051.5500000000002 218.4 L1051.5500000000002 227.9" fill="none" stroke="#a29c9e" stroke-width="1.1"/>
<text transform="translate(1052.15,286.2) scale(1,0.9)" font-size="11.3" letter-spacing="0.25" text-anchor="middle" fill="#1a1a1a" stroke="#1a1a1a" stroke-width="0.42" >二沉池</text>
<rect x="1100" y="249" width="50.59999999999991" height="20" fill="url(#g_settle)"/>
<rect x="1100" y="260.5" width="50.59999999999991" height="8.5" fill="#6e6e6c"/>
<path d="M1100.9 230.9 L1100.9 268.1 L1149.6999999999998 268.1 L1149.6999999999998 230.9" fill="none" stroke="#3b1d22" stroke-width="1.7"/>
<path d="M1100 231.9 L1111 231.9 M1139.6 231.9 L1150.6 231.9" stroke="#3b1d22" stroke-width="2.5"/>
<line x1="1111" y1="231.4" x2="1139.6" y2="231.4" stroke="#e0dcdc" stroke-width="1"/>
<path d="M1108.5 229.4 L1108.5 221.9 Q1108.5 217.9 1113 217.9 L1137.6 217.9 Q1142.1 217.9 1142.1 221.9 L1142.1 229.4 M1108 228.4 L1142.6 228.4 M1109 227.9 L1116 218.4 L1125.3 227.9 L1134.6 218.4 L1141.6 227.9 M1125.3 218.4 L1125.3 227.9" fill="none" stroke="#a29c9e" stroke-width="1.1"/>
<text transform="translate(1125.8999999999999,286.2) scale(1,0.9)" font-size="11.3" letter-spacing="0.25" text-anchor="middle" fill="#1a1a1a" stroke="#1a1a1a" stroke-width="0.42" >除磷池</text>
<rect x="1173.6" y="249.5" width="50.700000000000045" height="19.899999999999977" fill="url(#g_clear)"/>
<path d="M1174.5 230.4 L1174.5 268.5 L1223.3999999999999 268.5 L1223.3999999999999 230.4" fill="none" stroke="#3b1d22" stroke-width="1.7"/>
<line x1="1173.6" y1="231.0" x2="1224.3" y2="231.0" stroke="#b0aaaa" stroke-width="1.2"/>
<text transform="translate(1199.5499999999997,286.2) scale(1,0.9)" font-size="11.3" letter-spacing="0.25" text-anchor="middle" fill="#1a1a1a" stroke="#1a1a1a" stroke-width="0.42" >消毒池</text>
<rect x="1247.8" y="249.5" width="50.799999999999955" height="20.100000000000023" fill="url(#g_clear)"/>
<path d="M1248.7 230.4 L1248.7 268.70000000000005 L1297.6999999999998 268.70000000000005 L1297.6999999999998 230.4" fill="none" stroke="#3b1d22" stroke-width="1.7"/>
<line x1="1247.8" y1="231.0" x2="1298.6" y2="231.0" stroke="#b0aaaa" stroke-width="1.2"/>
<text transform="translate(1273.7999999999997,286.2) scale(1,0.9)" font-size="11.3" letter-spacing="0.25" text-anchor="middle" fill="#1a1a1a" stroke="#1a1a1a" stroke-width="0.42" >清水池</text>
<text transform="translate(281.3,286.2) scale(1,0.9)" font-size="10.9" letter-spacing="0.25" text-anchor="middle" fill="#1a1a1a" stroke="#1a1a1a" stroke-width="0.42" >固液分离机</text>
<path d="M110.5 263 L145 212.5 Q147 209 149 210 Q150 211 148.5 214 L144.5 220 L148 222 L141 225 L115.5 263" fill="none" stroke="#a29ca0" stroke-width="0.8"/>
<path d="M142 219 L148 211" fill="none" stroke="#a29ca0" stroke-width="0.7"/>
<g>
<path d="M260 213 L274 213 L301 241 L303 241 L303 262 L260 262 Z" fill="#58acac" stroke="#2f7d80" stroke-width="0.8"/>
<rect x="258.5" y="210.5" width="15" height="3" fill="#58acac" stroke="#2f7d80" stroke-width="0.6"/>
<path d="M261 216 L270 216 L297 244" stroke="#2f7d80" stroke-width="1.2" fill="none"/>
<line x1="260" y1="242" x2="287" y2="242" stroke="#2f7d80" stroke-width="0.8"/>
<line x1="286" y1="242" x2="286" y2="262" stroke="#2f7d80" stroke-width="0.8"/>
<path d="M287 244 Q292 252 298 254 Q302 252 302 246" fill="none" stroke="#2f7d80" stroke-width="1"/>
<circle cx="297" cy="252" r="2.5" fill="none" stroke="#2f7d80" stroke-width="0.8"/>
<path d="M256 262 L306 262 M258 264 L304 264" stroke="#2f7d80" stroke-width="1"/>
<circle cx="262" cy="266" r="1.6" fill="#2f7d80"/><circle cx="272" cy="266" r="1.6" fill="#2f7d80"/><circle cx="297" cy="266" r="1.6" fill="#2f7d80"/>
<path d="M256 260 L256 267 M305 260 L305 267" stroke="#2f7d80" stroke-width="1"/>
</g>
<rect x="15" y="236" width="40" height="32" fill="#4a4a3a"/>
<path d="M56 236.5 L60.5 236.5 L70.3 252.2 L60.5 268 L56 268 L65.8 252.2Z" fill="#4a4a3a"/>
<path d="M65 236.5 L69.5 236.5 L79.3 252.2 L69.5 268 L65 268 L74.8 252.2Z" fill="#4a4a3a"/>
<text transform="translate(36.5,249.8) scale(1,0.92)" font-size="12" letter-spacing="2" text-anchor="middle" fill="#fff" stroke="#fff" stroke-width="0.45" >生产</text>
<text transform="translate(36.5,264.8) scale(1,0.92)" font-size="12" letter-spacing="2" text-anchor="middle" fill="#fff" stroke="#fff" stroke-width="0.45" >废水</text>
<rect x="1321" y="236.5" width="37.5" height="31.5" fill="#1f9589"/>
<path d="M1358 236.5 L1362 236.5 L1373 252.2 L1362 268 L1358 268 L1358 265 L1369 252.2 L1358 239.5Z" fill="#1f9589"/>
<path d="M1368 237 L1372.5 237 L1383.5 252.2 L1372.5 267.5 L1368 267.5 L1379 252.2Z" fill="#1f9589"/>
<text transform="translate(1340,249.2) scale(1,0.92)" font-size="12" letter-spacing="0.3" text-anchor="middle" fill="#fff" stroke="#fff" stroke-width="0.25" >达标</text>
<text transform="translate(1340,264.2) scale(1,0.92)" font-size="12" letter-spacing="0.3" text-anchor="middle" fill="#fff" stroke="#fff" stroke-width="0.25" >排放</text>
<text transform="translate(359.59999999999997,79.6) scale(1,0.88)" font-size="10.2" letter-spacing="1.8" text-anchor="middle" fill="#222" stroke="#222" stroke-width="0.3" >风机</text>
<text transform="translate(435.4,79.6) scale(1,0.88)" font-size="10.2" letter-spacing="1.3" text-anchor="middle" fill="#222" stroke="#222" stroke-width="0.3" >PAC/PAM—</text>
<text transform="translate(659.5,79.6) scale(1,0.88)" font-size="10.2" letter-spacing="1.8" text-anchor="middle" fill="#222" stroke="#222" stroke-width="0.3" >碳源</text>
<text transform="translate(1127.875,79.6) scale(1,0.88)" font-size="10.2" letter-spacing="0.75" text-anchor="middle" fill="#222" stroke="#222" stroke-width="0.3" >除磷剂/PAM—</text>
<text transform="translate(1199.85,79.6) scale(1,0.88)" font-size="10.2" letter-spacing="1.2" text-anchor="middle" fill="#222" stroke="#222" stroke-width="0.3" >消毒剂</text>
<g>
<rect x="425.5" y="86" width="14" height="2" rx="1" fill="#5a2a30"/>
<path d="M420.5 95 Q420.5 89 426.5 89 L438.5 89 Q444.5 89 444.5 95" fill="none" stroke="#c8c0c0" stroke-width="1"/>
<rect x="420.5" y="101.5" width="24" height="15" fill="url(#g_red)"/>
<path d="M420.5 94 L420.5 116 Q420.5 117 421.5 117 L443.5 117 Q444.5 117 444.5 116 L444.5 94" fill="none" stroke="#3a1a20" stroke-width="2"/>
</g>
<g>
<rect x="651.5" y="86" width="14" height="2" rx="1" fill="#5a2a30"/>
<path d="M646.5 95 Q646.5 89 652.5 89 L664.5 89 Q670.5 89 670.5 95" fill="none" stroke="#c8c0c0" stroke-width="1"/>
<rect x="646.5" y="101.5" width="24" height="15" fill="url(#g_red)"/>
<path d="M646.5 94 L646.5 116 Q646.5 117 647.5 117 L669.5 117 Q670.5 117 670.5 116 L670.5 94" fill="none" stroke="#3a1a20" stroke-width="2"/>
</g>
<g>
<rect x="1119" y="86" width="14" height="2" rx="1" fill="#5a2a30"/>
<path d="M1114 95 Q1114 89 1120 89 L1132 89 Q1138 89 1138 95" fill="none" stroke="#c8c0c0" stroke-width="1"/>
<rect x="1114" y="101.5" width="24" height="15" fill="url(#g_red)"/>
<path d="M1114 94 L1114 116 Q1114 117 1115 117 L1137 117 Q1138 117 1138 116 L1138 94" fill="none" stroke="#3a1a20" stroke-width="2"/>
</g>
<g>
<rect x="1192" y="86" width="14" height="2" rx="1" fill="#5a2a30"/>
<path d="M1187 95 Q1187 89 1193 89 L1205 89 Q1211 89 1211 95" fill="none" stroke="#c8c0c0" stroke-width="1"/>
<rect x="1187" y="101.5" width="24" height="15" fill="url(#g_red)"/>
<path d="M1187 94 L1187 116 Q1187 117 1188 117 L1210 117 Q1211 117 1211 116 L1211 94" fill="none" stroke="#3a1a20" stroke-width="2"/>
</g>
<line x1="433" y1="118" x2="433" y2="224" stroke="#f0a21e" stroke-width="2" stroke-dasharray="5 1.5 1.5 1.5"/>
<path d="M428.5 222 L437.5 222 L433 230Z" fill="#f0a21e"/>
<line x1="659" y1="118" x2="659" y2="225" stroke="#f0a21e" stroke-width="2" stroke-dasharray="5 1.5 1.5 1.5"/>
<path d="M654.5 223 L663.5 223 L659 231Z" fill="#f0a21e"/>
<line x1="1126" y1="118" x2="1126" y2="213" stroke="#f0a21e" stroke-width="2" stroke-dasharray="5 1.5 1.5 1.5"/>
<path d="M1121.5 211 L1130.5 211 L1126 219Z" fill="#f0a21e"/>
<line x1="1199" y1="118" x2="1199" y2="224" stroke="#f0a21e" stroke-width="2" stroke-dasharray="5 1.5 1.5 1.5"/>
<path d="M1194.5 222 L1203.5 222 L1199 230Z" fill="#f0a21e"/>
<g>
<rect x="325.5" y="111" width="3" height="5" rx="1" fill="#34497e"/>
<rect x="328" y="111.6" width="22" height="4" fill="#41598f"/>
<rect x="329" y="112.3" width="19" height="1.2" fill="#7388bb"/>
<rect x="349.5" y="110.8" width="8" height="5.2" fill="#4a62a0"/>
<rect x="358.7" y="86.5" width="6.6" height="20" rx="2.2" fill="#4c67a4"/>
<rect x="360.6" y="89" width="2.4" height="16" fill="#8298cc"/>
<rect x="356.8" y="105.5" width="10.5" height="5" rx="1.5" fill="#3c5592"/>
<path d="M357 110 L366 110 L366 105 L375 105 Q381 105.5 381 112 L381 120.5 L357 120.5Z" fill="#5068a6"/>
<path d="M366.5 105.5 L375 105.5 Q380.5 106 380.5 112 L378 112 Q377 108 373 108 L366.5 108Z" fill="#6f86bc"/>
<ellipse cx="375" cy="114.5" rx="4.5" ry="5" fill="#b8bccc"/>
<rect x="359.5" y="113" width="9" height="1.6" fill="#d8dcec"/>
<rect x="359.5" y="117" width="9" height="1.4" fill="#c0c8e0"/>
<rect x="368" y="108.5" width="4" height="2.5" fill="#e4e6f0"/>
</g>
<path d="M358.5 121 L358.5 224" fill="none" stroke="#2a8540" stroke-width="1.5" stroke-dasharray="6.5 3.5 2 4"/>
<path d="M358.5 134.8 L975 134.8 L975 224 M816 134.8 L816 224" fill="none" stroke="#2a8540" stroke-width="1.5" stroke-dasharray="6.5 3.5 2 4"/>
<path d="M354.0 222 L363.0 222 L358.5 230.5Z" fill="#2a8540"/>
<path d="M811.5 222 L820.5 222 L816 230.5Z" fill="#2a8540"/>
<path d="M970.5 222 L979.5 222 L975 230.5Z" fill="#2a8540"/>
<path d="M382 131 L388 134.5 L382 138Z" fill="#2a8540"/>
<g>
<rect x="1261" y="76" width="22" height="35" rx="1.5" fill="#4f9e9b"/>
<path d="M1261.5 78 Q1262 73.5 1266 73.5 L1278 73.5 Q1282.5 73.5 1282.5 78Z" fill="#5aa8a5" stroke="#3a8582" stroke-width="0.6"/>
<path d="M1267 73.5 L1268 70.5 L1276 70.5 L1277 73.5" fill="#6cb4b0" stroke="#3a8582" stroke-width="0.5"/>
<rect x="1262" y="78.5" width="20" height="1.2" fill="#3f8f8c"/>
<path d="M1264.5 110 L1261.5 120.5 M1279.5 110 L1282.5 120.5" stroke="#4f9e9b" stroke-width="1.8"/>
<line x1="1261" y1="107.5" x2="1283" y2="107.5" stroke="#2a6a68" stroke-width="1.3" stroke-dasharray="1.6 1.4"/>
<path d="M1283 100.5 L1286 103.5 L1283 106.5Z" fill="#3a8582"/>
<path d="M1268 112.5 Q1272 115 1276 112.5" fill="none" stroke="#8a8a8a" stroke-width="0.8"/>
</g>
<line x1="1283" y1="92.5" x2="1303" y2="92.5" stroke="#1b4d78" stroke-width="2.5"/>
<path d="M1302 87.5 L1311 92.5 L1302 97.5Z" fill="#1b4d78"/>
<text x="1313" y="97.5" font-size="11.5" font-weight="700" letter-spacing="1" fill="#1f9589" stroke="#1f9589" stroke-width="0.2">回用</text>
<text transform="translate(1273.3,134.6) scale(1,0.93)" font-size="12" letter-spacing="0.2" text-anchor="middle" fill="#1a1a1a" stroke="#1a1a1a" stroke-width="0.3" >砂滤罐</text>
<line x1="1273" y1="230.5" x2="1273" y2="145" stroke="#1b4d78" stroke-width="2.5"/>
<path d="M1268 146 L1273 137 L1278 146Z" fill="#1b4d78"/>
<path d="M129 290 L129 382" fill="none" stroke="#5b1a26" stroke-width="2.1" stroke-dasharray="3.2 1.8"/>
<path d="M124.5 381 L133.5 381 L129 389Z" fill="#5b1a26"/>
<path d="M281 290 L281 330 L143 330" fill="none" stroke="#5b1a26" stroke-width="2.1" stroke-dasharray="3.2 1.8"/>
<path d="M143 326 L143 334 L135 330Z" fill="#5b1a26"/>
<path d="M429.5 290 L429.5 347 L1037 347 L1037 370" fill="none" stroke="#5b1a26" stroke-width="2.1" stroke-dasharray="3.2 1.8"/>
<path d="M1032.5 369 L1041.5 369 L1037 377Z" fill="#5b1a26"/>
<path d="M1050 291 L1050 370" fill="none" stroke="#5b1a26" stroke-width="2.1" stroke-dasharray="3.2 1.8"/>
<path d="M1045.5 369 L1054.5 369 L1050 377Z" fill="#5b1a26"/>
<path d="M582 296 L582 333.5 L1050 333.5" fill="none" stroke="#5b1a26" stroke-width="2.1" stroke-dasharray="3.2 1.8"/>
<path d="M655 296 L655 333.5" fill="none" stroke="#5b1a26" stroke-width="2.1" stroke-dasharray="3.2 1.8"/>
<path d="M577.5 296.5 L586.5 296.5 L582 289Z" fill="#5b1a26"/>
<path d="M650.5 296.5 L659.5 296.5 L655 289Z" fill="#5b1a26"/>
<path d="M667 296 L667 321.3 L972 321.3 L972 290" fill="none" stroke="#5b1a26" stroke-width="2.1" stroke-dasharray="3.2 1.8"/>
<path d="M662.5 296.5 L671.5 296.5 L667 289Z" fill="#5b1a26"/>
<path d="M1126 290 L1126 334 L1063 334 L1063 370" fill="none" stroke="#5b1a26" stroke-width="2.1" stroke-dasharray="3.2 1.8"/>
<path d="M1058.5 369 L1067.5 369 L1063 377Z" fill="#5b1a26"/>
<path d="M1080 401.5 L1117 401.5" fill="none" stroke="#5b1a26" stroke-width="2.1" stroke-dasharray="3.2 1.8"/>
<path d="M1116 397.5 L1116 405.5 L1124 401.5Z" fill="#5b1a26"/>
<path d="M1168 401.5 L1210 401.5" fill="none" stroke="#5b1a26" stroke-width="2.1" stroke-dasharray="3.2 1.8"/>
<path d="M1209 397.5 L1209 405.5 L1217 401.5Z" fill="#5b1a26"/>
<text transform="translate(457.3,342.5) scale(1,0.9)" font-size="10.3" letter-spacing="0.6" text-anchor="middle" fill="#222" stroke="#222" stroke-width="0.35" >污泥</text>
<text transform="translate(820.3,317.2) scale(1,0.9)" font-size="10.3" letter-spacing="0.6" text-anchor="middle" fill="#222" stroke="#222" stroke-width="0.35" >硝化液回流</text>
<text transform="translate(1035.6,317.5) scale(1,0.9)" font-size="10.3" letter-spacing="0.6" text-anchor="middle" fill="#222" stroke="#222" stroke-width="0.35" >污泥</text>
<text transform="translate(1109.8999999999999,317.5) scale(1,0.9)" font-size="10.3" letter-spacing="0.6" text-anchor="middle" fill="#222" stroke="#222" stroke-width="0.35" >污泥</text>
<rect x="1027" y="391" width="50" height="17" fill="url(#g_settle)"/>
<rect x="1027" y="408" width="50" height="9" fill="#636461"/>
<path d="M1028 379 L1028 416 L1076 416 L1076 379" fill="none" stroke="#3b1d22" stroke-width="2"/>
<line x1="1027" y1="379.5" x2="1077" y2="379.5" stroke="#d6d0d0" stroke-width="1"/>
<path d="M1121 381.3 L1172.5 381.3 M1125.8 381.3 L1125.8 416.8 M1167.4 381.3 L1167.4 416.8 M1112.7 416.8 L1181.7 416.8" stroke="#3b1d22" stroke-width="1.6" fill="none"/>
<g>
<path d="M1129 399.5 L1140 399.5 L1140 404 L1138 405 L1138 411.5 L1131 411.5 L1131 405 L1129 404Z" fill="#4cb2bc"/>
<rect x="1134.3" y="395.5" width="1.6" height="4" fill="#3a5a60"/>
<path d="M1140 401 Q1142 400 1143 404" fill="none" stroke="#4cb2bc" stroke-width="1.5"/>
<path d="M1143 401.5 L1162 394.5 L1164.5 401.5 L1145.5 408.5Z" fill="#4cb0ba"/>
<path d="M1144 403 L1162.5 396" stroke="#7fd0d8" stroke-width="0.8"/>
<path d="M1163.2 393 L1165 400" stroke="#3a3030" stroke-width="1.3"/>
<path d="M1146 408.5 L1146 413 M1160 403 L1160 413 M1145 411 L1161 411 M1145 413 L1161 413" stroke="#b0aca8" stroke-width="1"/>
</g>
<g transform="translate(110,389)">
<path d="M1.5 10 Q0.5 4 6 2 Q13 -0.5 21 0.5 Q26 1.5 26.5 6 L26.5 10Z" fill="#5a5c5a"/>
<path d="M28.5 2.5 Q28.5 1 30 1 L39 1 Q40.5 1 41.5 2.5 L46 10 L46.5 13 L28.5 13Z" fill="#fbe6c0"/>
<path d="M30 3 L39 3 L44 11.5 L30 11.5Z" fill="#c6eef6"/>
<path d="M0 11 L46.5 11 L46.5 21.5 L0 21.5Z" fill="#f5a232"/>
<rect x="3" y="14" width="18" height="3.5" fill="#a8723a"/>
<rect x="39.5" y="16" width="6" height="2" fill="#b06a2a"/>
<rect x="2" y="20.5" width="46" height="2.5" fill="#c4c2bc"/>
<circle cx="9" cy="24.5" r="4" fill="#2e3130"/><circle cx="36" cy="24.5" r="4" fill="#2e3130"/>
<circle cx="9" cy="24.5" r="2" fill="#6a6e6c"/><circle cx="36" cy="24.5" r="2" fill="#6a6e6c"/>
</g>
<g transform="translate(1218,389)">
<path d="M1.5 10 Q0.5 4 6 2 Q13 -0.5 21 0.5 Q26 1.5 26.5 6 L26.5 10Z" fill="#5a5c5a"/>
<path d="M28.5 2.5 Q28.5 1 30 1 L39 1 Q40.5 1 41.5 2.5 L46 10 L46.5 13 L28.5 13Z" fill="#fbe6c0"/>
<path d="M30 3 L39 3 L44 11.5 L30 11.5Z" fill="#c6eef6"/>
<path d="M0 11 L46.5 11 L46.5 21.5 L0 21.5Z" fill="#f5a232"/>
<rect x="3" y="14" width="18" height="3.5" fill="#a8723a"/>
<rect x="39.5" y="16" width="6" height="2" fill="#b06a2a"/>
<rect x="2" y="20.5" width="46" height="2.5" fill="#c4c2bc"/>
<circle cx="9" cy="24.5" r="4" fill="#2e3130"/><circle cx="36" cy="24.5" r="4" fill="#2e3130"/>
<circle cx="9" cy="24.5" r="2" fill="#6a6e6c"/><circle cx="36" cy="24.5" r="2" fill="#6a6e6c"/>
</g>
<path d="M163 392 L166.5 392 L174.5 403.0 L166.5 414 L163 414 L171 403.0Z" fill="#5b1a26"/><path d="M171 392 L174.5 392 L182.5 403.0 L174.5 414 L171 414 L179 403.0Z" fill="#5b1a26"/>
<path d="M1272 391 L1275.5 391 L1283.5 402.0 L1275.5 413 L1272 413 L1280 402.0Z" fill="#5b1a26"/><path d="M1280 391 L1283.5 391 L1291.5 402.0 L1283.5 413 L1280 413 L1288 402.0Z" fill="#5b1a26"/>
<text transform="translate(146.9,432.7) scale(1,0.95)" font-size="10.7" letter-spacing="0.1" text-anchor="middle" fill="#1a1a1a" stroke="#1a1a1a" stroke-width="0.45" >废渣与污泥外运</text>
<text transform="translate(1052.1,433.7) scale(1,0.95)" font-size="11.2" letter-spacing="0.1" text-anchor="middle" fill="#1a1a1a" stroke="#1a1a1a" stroke-width="0.45" >污泥浓缩池</text>
<text transform="translate(1146.6,433.7) scale(1,0.95)" font-size="11.2" letter-spacing="0.1" text-anchor="middle" fill="#1a1a1a" stroke="#1a1a1a" stroke-width="0.45" >叠螺式污泥脱水机</text>
<text transform="translate(1243.1,433.7) scale(1,0.95)" font-size="11.2" letter-spacing="0.1" text-anchor="middle" fill="#1a1a1a" stroke="#1a1a1a" stroke-width="0.45" >污泥外运</text>
</svg></body></html>
